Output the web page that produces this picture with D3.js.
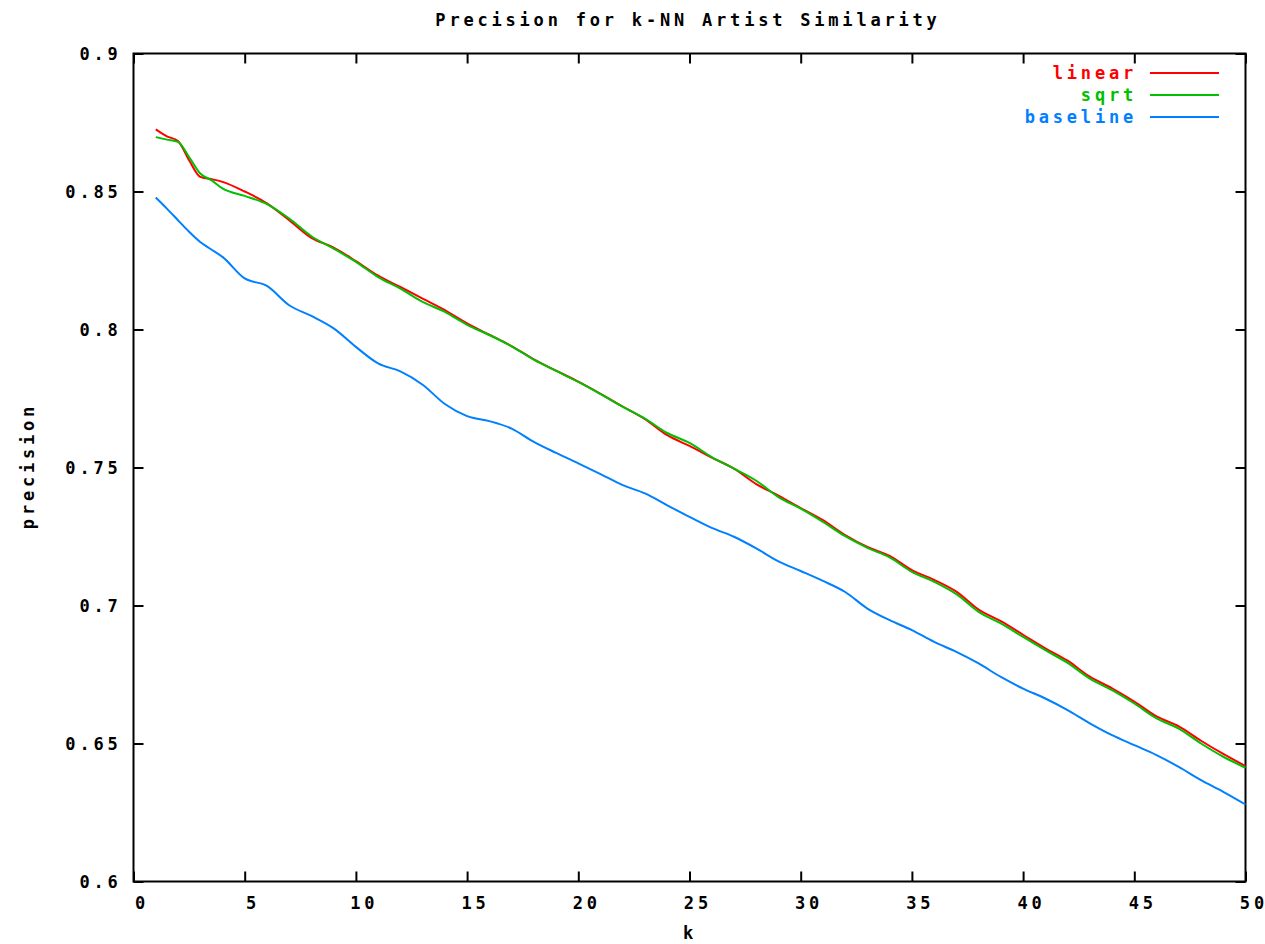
<!DOCTYPE html>
<html>
<head>
<meta charset="utf-8">
<script src="https://cdn.jsdelivr.net/npm/d3@7"></script>
<style>
  body { margin: 0; background: #fff; }
  text { font-family: "DejaVu Sans Mono", monospace; font-weight: bold; font-size: 17px; letter-spacing: 3.8px; }
  tspan.last { letter-spacing: 0; }
</style>
</head>
<body>
<div id="chart"></div>
<script>
const kValues = [1, 1.5, 2, 2.5, 3, 3.5, 4, 5, 6, 7, 8, 9, 10, 11, 12, 13, 14, 15, 16, 17, 18, 19, 20,
  21, 22, 23, 24, 25, 26, 27, 28, 29, 30, 31, 32, 33, 34, 35, 36, 37, 38, 39, 40,
  41, 42, 43, 44, 45, 46, 47, 48, 49, 50];

const linearValues = [0.8725, 0.8700, 0.8683, 0.8613, 0.8553, 0.8545, 0.8535, 0.8500, 0.8457, 0.8396,
  0.8332, 0.8297, 0.8248, 0.8195, 0.8154, 0.8112, 0.8070, 0.8022, 0.7981, 0.7940, 0.7892, 0.7851,
  0.7811, 0.7767, 0.7721, 0.7675, 0.7617, 0.7578, 0.7536, 0.7496, 0.7440, 0.7398, 0.7353, 0.7309,
  0.7255, 0.7212, 0.7180, 0.7128, 0.7093, 0.7050, 0.6985, 0.6943, 0.6894, 0.6845, 0.6800, 0.6742,
  0.6700, 0.6652, 0.6598, 0.6562, 0.6510, 0.6462, 0.6418];

const sqrtValues = [0.8697, 0.8688, 0.8680, 0.8625, 0.8565, 0.8541, 0.8511, 0.8484, 0.8454, 0.8402,
  0.8338, 0.8293, 0.8245, 0.8190, 0.8148, 0.8100, 0.8064, 0.8017, 0.7980, 0.7939, 0.7891, 0.7850,
  0.7810, 0.7766, 0.7720, 0.7677, 0.7625, 0.7589, 0.7538, 0.7496, 0.7452, 0.7393, 0.7351, 0.7303,
  0.7251, 0.7209, 0.7174, 0.7122, 0.7086, 0.7041, 0.6977, 0.6935, 0.6886, 0.6838, 0.6792, 0.6735,
  0.6693, 0.6645, 0.6591, 0.6554, 0.6500, 0.6452, 0.6412];

const baselineValues = [0.8478, 0.8438, 0.8396, 0.8354, 0.8317, 0.8290, 0.8263, 0.8185, 0.8158, 0.8088,
  0.8049, 0.8004, 0.7937, 0.7877, 0.7848, 0.7800, 0.7730, 0.7686, 0.7668, 0.7641, 0.7593, 0.7553,
  0.7515, 0.7476, 0.7436, 0.7406, 0.7363, 0.7321, 0.7281, 0.7249, 0.7207, 0.7160, 0.7125, 0.7089,
  0.7049, 0.6989, 0.6947, 0.6911, 0.6868, 0.6832, 0.6790, 0.6741, 0.6699, 0.6663, 0.6621, 0.6573,
  0.6530, 0.6494, 0.6458, 0.6415, 0.6367, 0.6325, 0.6279];

const seriesNames = ["linear", "sqrt", "baseline"];
const seriesColors = ["#ff0000", "#00c000", "#0080ff"];
const xTicks = [0, 5, 10, 15, 20, 25, 30, 35, 40, 45, 50];
const yTicks = [0.6, 0.65, 0.7, 0.75, 0.8, 0.85, 0.9];

function buildChart() {
  const width = 1265;
  const height = 944;
  const margin = { left: 133.5, right: 19.5, top: 53.5, bottom: 62.5 };
  const visWidth = width - margin.left - margin.right;
  const visHeight = height - margin.top - margin.bottom;

  const svg = d3.select("#chart")
    .append("svg")
    .attr("width", width)
    .attr("height", height);

  const xScale = d3.scaleLinear().domain([0, 50]).range([0, visWidth]);
  const yScale = d3.scaleLinear().domain([0.6, 0.9]).range([visHeight, 0]);

  const g = svg.append("g")
    .attr("transform", `translate(${margin.left}, ${margin.top})`);

  // ticks on all four sides, pointing inward (gnuplot style)
  const tickLen = 10;
  const fmtY = (d) => (d === 0.6 || d === 0.7 || d === 0.8 || d === 0.9) ? d.toFixed(1) : d.toFixed(2);

  const axisStyle = (sel) => {
    sel.select(".domain").remove();
    sel.selectAll("line").attr("stroke", "#000").attr("stroke-width", 2);
    sel.selectAll("text").attr("fill", "#000").attr("font-size", null).attr("font-family", null);
  };

  // drop the trailing letter-spacing so the labels stay centred and inside the page
  const trimSpacing = (sel) => {
    sel.selectAll("text").each(function () {
      const t = d3.select(this);
      const s = t.text();
      t.text(s.slice(0, -1));
      t.append("tspan").attr("class", "last").text(s.slice(-1));
    });
  };

  g.append("g")
    .attr("transform", `translate(0, ${visHeight})`)
    .call(d3.axisBottom(xScale).tickValues(xTicks).tickSizeInner(-tickLen).tickSizeOuter(0).tickPadding(15))
    .call(axisStyle)
    .call(trimSpacing)
    .call((s) => s.selectAll("text").attr("dx", 6));

  g.append("g")
    .call(d3.axisTop(xScale).tickValues(xTicks).tickSizeInner(-tickLen).tickSizeOuter(0).tickFormat(""))
    .call(axisStyle);

  g.append("g")
    .call(d3.axisLeft(yScale).tickValues(yTicks).tickSizeInner(-tickLen).tickSizeOuter(0).tickPadding(12).tickFormat(fmtY))
    .call(axisStyle)
    .call((s) => s.selectAll("text").attr("dy", "0.35em"));

  g.append("g")
    .attr("transform", `translate(${visWidth}, 0)`)
    .call(d3.axisRight(yScale).tickValues(yTicks).tickSizeInner(-tickLen).tickSizeOuter(0).tickFormat(""))
    .call(axisStyle);

  // border
  g.append("rect")
    .attr("x", 0).attr("y", 0)
    .attr("width", visWidth).attr("height", visHeight)
    .attr("fill", "none")
    .attr("stroke", "#000")
    .attr("stroke-width", 2);

  // lines
  const allSeries = [linearValues, sqrtValues, baselineValues];
  const line = d3.line()
    .x((d, i) => xScale(kValues[i]))
    .y((d) => yScale(d))
    .curve(d3.curveMonotoneX);

  // draw baseline first, then linear, then sqrt on top
  [2, 0, 1].forEach((s) => {
    g.append("path")
      .datum(allSeries[s])
      .attr("fill", "none")
      .attr("stroke", seriesColors[s])
      .attr("stroke-width", 2)
      .attr("d", line);
  });

  // legend
  const legend = svg.append("g");
  seriesNames.forEach((name, i) => {
    const ly = 73 + i * 22;
    legend.append("text")
      .attr("x", 1137)
      .attr("y", ly)
      .attr("dy", "0.35em")
      .attr("text-anchor", "end")
      .attr("fill", seriesColors[i])
      .text(name);
    legend.append("line")
      .attr("x1", 1150).attr("x2", 1219)
      .attr("y1", ly).attr("y2", ly)
      .attr("stroke", seriesColors[i])
      .attr("stroke-width", 2);
  });

  // titles
  svg.append("text")
    .attr("x", 688)
    .attr("y", 20)
    .attr("dy", "0.35em")
    .attr("text-anchor", "middle")
    .text("Precision for k-NN Artist Similarity");

  svg.append("text")
    .attr("x", 690)
    .attr("y", 933)
    .attr("dy", "0.35em")
    .attr("text-anchor", "middle")
    .text("k");

  svg.append("text")
    .attr("transform", "translate(28, 466) rotate(-90)")
    .attr("dy", "0.35em")
    .attr("text-anchor", "middle")
    .text("precision");
}

window.onload = buildChart;
</script>
</body>
</html>
